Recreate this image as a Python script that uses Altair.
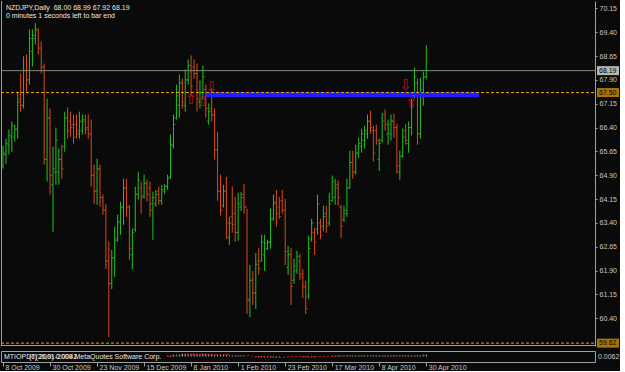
import altair as alt
import pandas as pd

# ---------------- data (NZDJPY daily, 8 Oct 2009 .. 30 Apr 2010) ----------------
highs = [65.83, 66.05, 66.34, 66.59, 66.49, 67.53, 68.10, 68.64, 68.70, 69.49,
         69.49, 69.68, 69.52, 69.11, 68.41, 67.31, 67.00, 65.80, 66.40, 65.74,
         65.86, 66.90, 67.03, 66.90, 66.81, 66.81, 66.90, 66.81, 66.81, 66.81,
         66.65, 65.23, 65.42, 65.23, 64.29, 64.00, 62.81, 62.55, 63.28, 63.66,
         64.07, 64.79, 64.79, 63.97, 63.22, 64.54, 65.01, 64.70, 64.92, 64.76,
         64.70, 64.38, 64.44, 64.54, 64.60, 64.63, 64.92, 66.18, 66.81, 67.75,
         68.07, 67.94, 68.23, 68.54, 68.67, 68.54, 68.41, 67.88, 68.35, 67.75,
         67.16, 67.63, 67.00, 66.27, 64.92, 64.60, 64.85, 63.59, 64.54, 64.22,
         64.35, 64.38, 64.63, 63.85, 62.08, 61.89, 62.46, 62.62, 63.03, 63.03,
         62.87, 63.85, 64.29, 64.44, 64.22, 64.44, 64.16, 62.68, 62.62, 62.27,
         62.52, 62.43, 61.95, 61.58, 63.00, 63.53, 63.25, 64.29, 63.53, 63.94,
         63.94, 64.35, 64.89, 64.79, 64.73, 63.97, 63.94, 64.79, 65.67, 65.67,
         65.86, 66.08, 66.37, 66.46, 66.81, 66.93, 66.46, 66.49, 66.05, 66.87,
         66.97, 66.65, 66.81, 66.84, 66.52, 65.67, 66.37, 66.52, 66.59, 67.31,
         68.29, 67.94, 67.97, 68.16, 68.99]
lows = [65.11, 65.26, 65.55, 65.64, 65.96, 66.05, 66.90, 67.00, 67.53, 67.75,
        68.32, 69.01, 68.70, 68.10, 65.23, 64.70, 64.29, 63.12, 64.60, 64.60,
        64.79, 65.64, 66.05, 66.11, 65.89, 66.05, 66.05, 66.18, 66.18, 66.05,
        64.54, 64.00, 63.97, 63.91, 63.66, 61.95, 59.81, 61.32, 61.70, 62.81,
        63.03, 63.34, 63.59, 62.24, 61.95, 63.12, 64.13, 63.69, 64.16, 64.07,
        63.59, 62.87, 63.91, 63.97, 63.97, 64.32, 64.44, 64.79, 65.74, 66.65,
        66.71, 67.00, 66.90, 67.75, 67.38, 67.94, 66.90, 67.00, 67.28, 66.71,
        66.49, 66.59, 65.39, 64.10, 63.63, 63.88, 62.90, 62.71, 63.09, 62.81,
        62.84, 63.78, 63.69, 60.54, 60.44, 60.82, 60.69, 61.77, 62.18, 61.89,
        62.55, 62.59, 63.47, 63.28, 63.53, 63.69, 62.08, 61.77, 60.82, 61.48,
        61.80, 61.61, 61.04, 60.54, 61.01, 62.81, 62.40, 63.03, 62.90, 63.15,
        63.09, 63.31, 64.07, 63.97, 63.94, 62.93, 63.43, 63.59, 64.48, 64.79,
        64.92, 65.45, 65.61, 65.74, 66.05, 66.21, 65.33, 65.86, 65.04, 65.93,
        66.30, 65.86, 65.99, 66.08, 64.95, 64.76, 65.45, 65.86, 65.61, 66.15,
        67.31, 65.86, 66.05, 67.09, 67.92]
opens = [65.20, 65.55, 65.85, 66.10, 66.10, 66.35, 67.30, 67.10, 68.20, 67.90,
         68.80, 69.20, 69.45, 68.90, 68.30, 65.40, 66.70, 64.60, 65.00, 65.00,
         65.40, 65.80, 66.70, 66.60, 66.50, 66.50, 66.20, 66.30, 66.65, 66.40,
         66.20, 64.90, 64.40, 65.10, 64.20, 63.80, 62.20, 61.50, 62.30, 62.90,
         63.40, 63.90, 64.50, 63.90, 62.40, 63.20, 64.30, 64.50, 64.25, 64.65,
         64.50, 63.80, 64.00, 64.40, 64.10, 64.40, 64.55, 64.85, 65.85, 66.70,
         67.10, 67.80, 67.10, 67.90, 68.35, 68.30, 68.10, 67.20, 67.50, 67.60,
         66.60, 67.00, 66.80, 65.70, 64.40, 63.95, 64.40, 62.95, 63.60, 63.70,
         63.10, 63.90, 64.30, 63.90, 60.95, 61.60, 61.20, 62.20, 62.20, 62.40,
         62.60, 62.80, 63.55, 64.00, 63.90, 64.10, 63.80, 62.00, 62.40, 61.60,
         61.90, 62.20, 61.70, 61.40, 61.10, 62.90, 63.10, 63.20, 63.40, 63.30,
         63.70, 63.40, 64.10, 64.20, 64.60, 63.90, 63.50, 63.70, 64.50, 65.30,
         65.00, 65.60, 65.80, 66.00, 66.20, 66.60, 66.30, 66.30, 65.40, 66.00,
         66.80, 66.20, 66.20, 66.60, 66.40, 65.00, 65.50, 66.30, 65.90, 66.40,
         67.40, 67.80, 66.20, 67.50, 68.00]
closes = [65.60, 65.90, 66.15, 66.45, 66.35, 67.20, 67.10, 68.20, 67.90, 69.20,
          69.30, 69.50, 68.90, 68.30, 65.40, 66.70, 64.90, 65.10, 66.00, 65.40,
          65.10, 66.70, 66.30, 66.40, 66.10, 66.30, 66.60, 66.60, 66.35, 66.20,
          64.90, 64.40, 65.10, 64.20, 63.80, 62.20, 61.50, 62.30, 62.85, 63.45,
          63.90, 64.50, 63.90, 62.60, 63.10, 64.30, 64.75, 64.20, 64.65, 64.30,
          64.00, 64.20, 64.30, 64.10, 64.45, 64.55, 64.80, 65.85, 66.50, 67.40,
          67.80, 67.20, 67.90, 68.35, 67.70, 68.10, 67.30, 67.50, 68.00, 67.00,
          66.90, 66.80, 65.70, 64.40, 63.80, 64.40, 63.40, 63.40, 63.35, 63.10,
          64.00, 64.20, 63.90, 61.00, 61.60, 61.20, 62.10, 61.95, 62.80, 62.75,
          62.80, 63.50, 64.05, 63.70, 63.60, 63.80, 62.50, 62.40, 61.40, 62.05,
          62.35, 61.80, 61.40, 60.70, 62.60, 63.40, 62.80, 64.00, 63.00, 63.60,
          63.30, 64.00, 64.70, 64.50, 64.20, 63.30, 63.80, 64.50, 65.30, 65.00,
          65.60, 65.90, 66.20, 66.30, 66.60, 66.40, 65.60, 66.00, 65.90, 66.60,
          66.50, 66.50, 66.60, 66.40, 65.20, 65.50, 66.10, 66.00, 66.40, 67.10,
          68.00, 66.20, 67.60, 68.00, 68.19]

date_idx = [0, 16, 32, 48, 64, 80, 96, 112, 128, 144]
date_labels = ["8 Oct 2009", "30 Oct 2009", "23 Nov 2009", "15 Dec 2009", "8 Jan 2010",
               "1 Feb 2010", "23 Feb 2010", "17 Mar 2010", "8 Apr 2010", "30 Apr 2010"]
price_ticks = [70.15, 69.40, 68.65, 67.90, 67.15, 66.40, 65.65, 64.90, 64.15,
               63.40, 62.65, 61.90, 61.15, 60.40]

last_price = 68.19
orange_levels = [67.50, 59.62]
band_start, band_end, band_level = [69], [162], [67.44]
arrow_idx = [71, 137, 64, 68, 139]
arrow_price = [67.68, 67.74, 67.30, 67.22, 67.16]
arrow_glyph = ["⇩", "⇩", "⇧", "⇧", "⇧"]

osc_start = 56
osc = [1, 1, 2, 2, 2, 3, 3, 3, 3, 3, 3, 3, 3, 3, 3, 3, 2, 2, 2, 2, 2, 1, 1, 1,
       1, 1, 1, 0, 0, 0, -1, -1, -1, -1, -1, -1, -1, -1, -1, 0, 0, 0, 0, 0, 0, 0,
       -1, -1, -1, -1, -1, 0, 0, 0, 0, 0, 1, 1, 1, 1, 1, 1, 1, 1, 1, 1, 1, 1, 1, 1,
       1, 1, 1, 1, 1, 1, 1, 1, 1, 1, 1, 1, 1, 1, 1, 1, 1, 2, 2]
sig = [0, 0, 1, 1, 1, 1, 2, 2, 2, 2, 2, 2, 2, 2, 2, 2, 2, 2, 2, 2, 2, 2, 1, 1,
       1, 1, 1, 1, 1, 0, 0, 0, 0, 0, 0, 0, -1, -1, -1, -1, -1, 0, 0, 0, 0, 0,
       0, 0, 0, 0, 0, 0, 0, 0, 0, 0, 0, 0, 1, 1, 1, 1, 1, 1, 1, 1, 1, 1, 1, 1,
       1, 1, 1, 1, 1, 1, 1, 1, 1, 1, 1, 1, 1, 1, 1, 1, 1, 1, 1]

# ---------------- styling ----------------
FONT = "Liberation Sans"
BG = "#0a0a0a"
GREEN = "#22c422"
RED = "#dd4b16"
GRID = "#a0a0a0"
LABEL = "#c8c8c8"
ORANGE = "#f5a000"
W, H = 594, 345

xs = alt.Scale(domain=[-0.68, 201.4], nice=False, zero=False)
ys = alt.Scale(domain=[59.53, 70.38], nice=False, zero=False)
yaxis = alt.Axis(orient="right", values=price_ticks, format=".2f", labelFont=FONT,
                 labelFontSize=7, labelColor=LABEL, tickColor=GRID, tickSize=2,
                 domainColor=GRID, grid=False, title=None, labelPadding=2)

df = pd.DataFrame({"i": list(range(len(highs))), "high": highs, "low": lows,
                   "open": opens, "close": closes})
df["dir"] = ["up" if c >= o else "down" for o, c in zip(opens, closes)]
col = alt.Color("dir:N", scale=alt.Scale(domain=["up", "down"], range=[GREEN, RED]), legend=None)

X = lambda f: alt.X(f, scale=xs, axis=None)
Y = lambda f: alt.Y(f, scale=ys, axis=yaxis)

bars = alt.Chart(df).mark_rule(strokeWidth=1).encode(x=X("i:Q"), y=Y("low:Q"), y2="high:Q", color=col)
opn = alt.Chart(df).mark_tick(orient="horizontal", size=2, thickness=1, xOffset=-1).encode(
    x=X("i:Q"), y=Y("open:Q"), color=col)
cls = alt.Chart(df).mark_tick(orient="horizontal", size=2, thickness=1, xOffset=1).encode(
    x=X("i:Q"), y=Y("close:Q"), color=col)

band_df = pd.DataFrame({"s": band_start, "e": band_end, "p": band_level})
band = alt.Chart(band_df).mark_rule(color="#1e1eff", strokeWidth=5).encode(
    x=X("s:Q"), x2="e:Q", y=Y("p:Q"))

lvl_df = pd.DataFrame({"p": orange_levels})
olines = alt.Chart(lvl_df).mark_rule(color=ORANGE, strokeDash=[3, 2], strokeWidth=1).encode(
    x=alt.value(0), x2=alt.value(W), y=Y("p:Q"))
last_df = pd.DataFrame({"p": [last_price]})
gline = alt.Chart(last_df).mark_rule(color="#7d8a7d", strokeWidth=1).encode(
    x=alt.value(0), x2=alt.value(W), y=Y("p:Q"))

arr_df = pd.DataFrame({"i": arrow_idx, "p": arrow_price, "g": arrow_glyph})
arrows = alt.Chart(arr_df).mark_text(font="DejaVu Sans", fontSize=15, color="#b01414",
                                     baseline="middle").encode(x=X("i:Q"), y=Y("p:Q"), text="g:N")

tag_w = alt.Chart(last_df).mark_tick(orient="horizontal", size=22, thickness=9, color="#ffffff").encode(
    x=alt.value(607), y=Y("p:Q"))
tag_o = alt.Chart(lvl_df).mark_tick(orient="horizontal", size=22, thickness=9, color=ORANGE).encode(
    x=alt.value(607), y=Y("p:Q"))
tag_txt_w = alt.Chart(last_df).mark_text(font=FONT, fontSize=7, color="#000000", align="left",
                                         baseline="middle").encode(
    x=alt.value(598), y=Y("p:Q"), text=alt.Text("p:Q", format=".2f"))
tag_txt_o = alt.Chart(lvl_df).mark_text(font=FONT, fontSize=7, color="#000000", align="left",
                                        baseline="middle").encode(
    x=alt.value(598), y=Y("p:Q"), text=alt.Text("p:Q", format=".2f"))

head1 = alt.Chart(pd.DataFrame({"t": ["NZDJPY,Daily\u00a0\u00a068.00 68.99 67.92 68.19"]})).mark_text(
    font=FONT, fontSize=7, color="#e6e6e6", align="left", baseline="middle").encode(
    x=alt.value(5), y=alt.value(7), text="t:N")
head2 = alt.Chart(pd.DataFrame({"t": ["0 minutes 1 seconds left to bar end"]})).mark_text(
    font=FONT, fontSize=7, color="#e6e6e6", align="left", baseline="middle").encode(
    x=alt.value(5), y=alt.value(15), text="t:N")

one = pd.DataFrame({"a": [0]})
lborder = alt.Chart(one).mark_rule(color=GRID).encode(x=alt.value(0.5), y=alt.value(0), y2=alt.value(H))
bborder = alt.Chart(one).mark_rule(color=GRID).encode(x=alt.value(0), x2=alt.value(W), y=alt.value(H - 0.5))

main = alt.layer(bars, band, olines, gline, opn, cls, arrows, tag_w, tag_o, tag_txt_w, tag_txt_o,
                 head1, head2, lborder, bborder).properties(width=W, height=H)

# ---------------- indicator panel ----------------
label_expr = " : ".join(f"datum.value == {v} ? '{l}'" for v, l in zip(date_idx, date_labels)) + " : ''"
xaxis = alt.Axis(values=date_idx, labelExpr=label_expr, labelAlign="left", labelOffset=2,
                 tickSize=4, tickColor=GRID, domain=False, grid=False, labelFont=FONT,
                 labelFontSize=7, labelColor=LABEL, title=None, labelPadding=-3,
                 labelBaseline="top", labelFlush=False, labelOverlap=False)
ind_df = pd.DataFrame({"i": list(range(osc_start, osc_start + len(osc))), "osc": osc, "sig": sig})
iscale = alt.Scale(domain=[-6, 6], nice=False, zero=False)
hist = alt.Chart(ind_df).mark_rule(color="#bdbdbd", strokeWidth=1).encode(
    x=alt.X("i:Q", scale=xs, axis=xaxis), y=alt.Y("osc:Q", scale=iscale, axis=None), y2=alt.datum(0))
sigl = alt.Chart(ind_df).mark_line(color="#d01010", strokeDash=[2, 2], strokeWidth=1).encode(
    x=alt.X("i:Q", scale=xs, axis=xaxis), y=alt.Y("sig:Q", scale=iscale, axis=None))
itext1 = alt.Chart(pd.DataFrame({"t": ["MTIOPDT(26,9) 0.0042"]})).mark_text(
    font=FONT, fontSize=7, color="#e6e6e6", align="left", baseline="middle").encode(
    x=alt.value(3), y=alt.value(6), text="t:N")
itext2 = alt.Chart(pd.DataFrame({"t": ["(c) 2001-2009 MetaQuotes Software Corp."]})).mark_text(
    font=FONT, fontSize=7, color="#e6e6e6", align="left", baseline="middle").encode(
    x=alt.value(28), y=alt.value(6), text="t:N")
itext3 = alt.Chart(pd.DataFrame({"t": ["0.0062"]})).mark_text(
    font=FONT, fontSize=7, color=LABEL, align="left", baseline="middle").encode(
    x=alt.value(597), y=alt.value(6), text="t:N")
ind = alt.layer(hist, sigl, itext1, itext2, itext3).properties(
    width=W, height=11, view=alt.ViewBackground(stroke=GRID))

chart = alt.vconcat(main, ind, spacing=1).configure(background=BG, padding=0).configure_view(
    stroke="transparent")

chart.save("out.html", embed_options={"renderer": "svg", "actions": False})
